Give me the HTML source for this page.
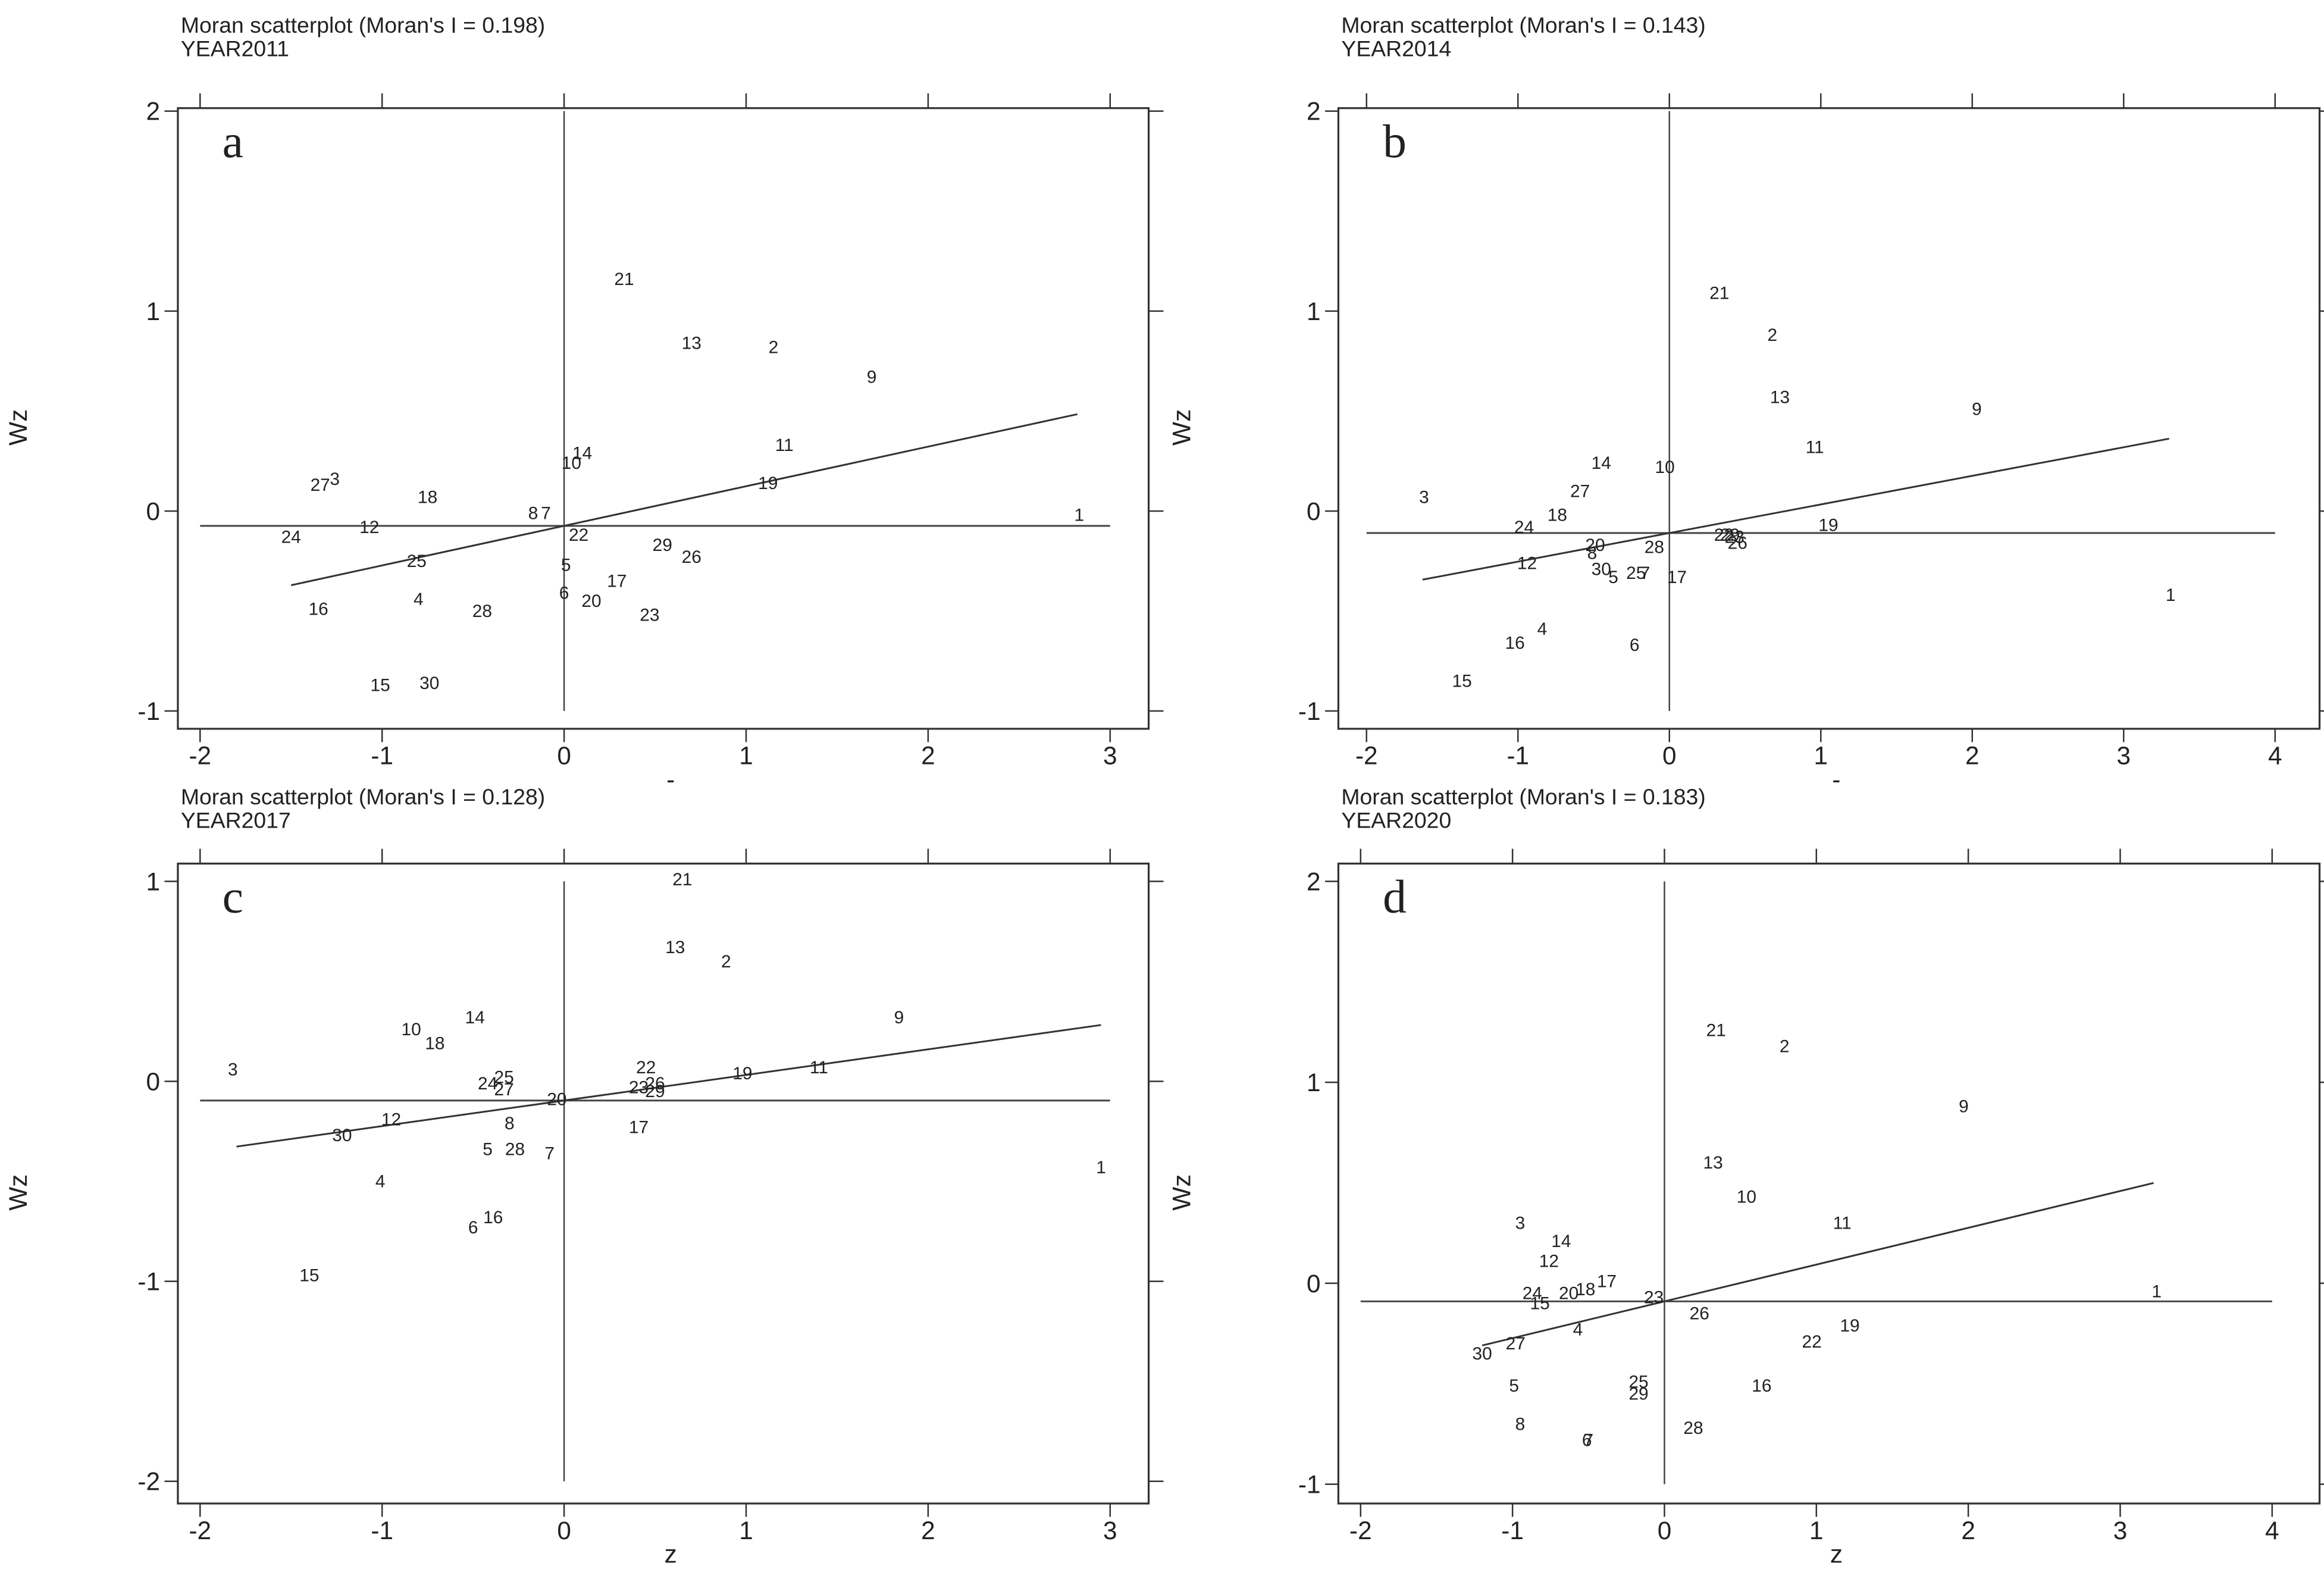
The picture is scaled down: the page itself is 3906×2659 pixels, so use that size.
<!DOCTYPE html>
<html><head><meta charset="utf-8"><style>
html,body{margin:0;padding:0;background:#fff;}
svg{display:block;}
text{font-family:"Liberation Sans",Arial,sans-serif;fill:#222;}
</style></head><body>
<svg id="chart" width="3906" height="2659" viewBox="0 0 1568 1068" preserveAspectRatio="none" xmlns="http://www.w3.org/2000/svg"></svg>
<script>
// Panel a (2011)
const labelsA = ["21","13","2","9","11","19","14","10","27","3","18","8","7","1","12","24","22","29","26","25","5","17","4","16","28","6","20","23","15","30"];
const zA = [0.33,0.70,1.15,1.69,1.21,1.12,0.10,0.04,-1.34,-1.26,-0.75,-0.17,-0.10,2.83,-1.07,-1.50,0.08,0.54,0.70,-0.81,0.01,0.29,-0.80,-1.35,-0.45,0.00,0.15,0.47,-1.01,-0.74];
const wzA = [1.16,0.84,0.82,0.67,0.33,0.14,0.29,0.24,0.13,0.16,0.07,-0.01,-0.01,-0.02,-0.08,-0.13,-0.12,-0.17,-0.23,-0.25,-0.27,-0.35,-0.44,-0.49,-0.50,-0.41,-0.45,-0.52,-0.87,-0.86];
// Panel b (2014)
const labelsB = ["21","2","13","9","11","10","14","27","3","18","24","19","20","8","28","22","29","23","26","12","30","5","25","7","17","1","4","16","6","15"];
const zB = [0.33,0.68,0.73,2.03,0.96,-0.03,-0.45,-0.59,-1.62,-0.74,-0.96,1.05,-0.49,-0.51,-0.10,0.36,0.40,0.43,0.45,-0.94,-0.45,-0.37,-0.22,-0.16,0.05,3.31,-0.84,-1.02,-0.23,-1.37];
const wzB = [1.09,0.88,0.57,0.51,0.32,0.22,0.24,0.10,0.07,-0.02,-0.08,-0.07,-0.17,-0.21,-0.18,-0.12,-0.12,-0.13,-0.16,-0.26,-0.29,-0.33,-0.31,-0.31,-0.33,-0.42,-0.59,-0.66,-0.67,-0.85];
// Panel c (2017)
const labelsC = ["21","13","2","9","14","10","18","3","22","19","11","25","24","27","23","26","29","20","12","8","30","17","5","28","7","1","4","16","6","15"];
const zC = [0.65,0.61,0.89,1.84,-0.49,-0.84,-0.71,-1.82,0.45,0.98,1.40,-0.33,-0.42,-0.33,0.41,0.50,0.50,-0.04,-0.95,-0.30,-1.22,0.41,-0.42,-0.27,-0.08,2.95,-1.01,-0.39,-0.50,-1.40];
const wzC = [1.01,0.67,0.60,0.32,0.32,0.26,0.19,0.06,0.07,0.04,0.07,0.02,-0.01,-0.04,-0.03,-0.01,-0.05,-0.09,-0.19,-0.21,-0.27,-0.23,-0.34,-0.34,-0.36,-0.43,-0.50,-0.68,-0.73,-0.97];
// Panel d (2020)
const labelsD = ["21","2","9","13","10","11","3","14","12","17","18","20","24","15","23","1","26","19","4","22","27","30","5","25","29","16","8","28","6","7"];
const zD = [0.34,0.79,1.97,0.32,0.54,1.17,-0.95,-0.68,-0.76,-0.38,-0.52,-0.63,-0.87,-0.82,-0.07,3.24,0.23,1.22,-0.57,0.97,-0.98,-1.20,-0.99,-0.17,-0.17,0.64,-0.95,0.19,-0.51,-0.50];
const wzD = [1.26,1.18,0.88,0.60,0.43,0.30,0.30,0.21,0.11,0.01,-0.03,-0.05,-0.05,-0.10,-0.07,-0.04,-0.15,-0.21,-0.23,-0.29,-0.30,-0.35,-0.51,-0.49,-0.55,-0.51,-0.70,-0.72,-0.78,-0.78];
// axis ticks
const xTicksA = [-2,-1,0,1,2,3];
const xTicksB = [-2,-1,0,1,2,3,4];
const yTicksA = [-1,0,1,2];
const yTicksC = [-2,-1,0,1];
// Moran's I values and mean lines
const moranI = [0.198,0.143,0.128,0.183];
const meanWz = [-0.074,-0.11,-0.096,-0.09];
const fitRange = [[-1.5,2.82],[-1.63,3.3],[-1.8,2.95],[-1.2,3.22]];

const NS = "http://www.w3.org/2000/svg";
const svg = document.getElementById('chart');
function mk(tag, attrs, parent, txt){
  const e = document.createElementNS(NS, tag);
  for (const k in attrs) e.setAttribute(k, attrs[k]);
  if (txt !== undefined) e.textContent = txt;
  (parent||svg).appendChild(e);
  return e;
}

const panels = [
  {key:'a', year:'YEAR2011', L:120,R:775,T:73,B:492, xmin:-2,xmax:3,px0:135,px1:749, ymin:-1,ymax:2,py0:480,py1:75, xt:xTicksA, yt:yTicksA, labels:labelsA, z:zA, wz:wzA, tx:122, ty:22, wzx:12, xlab:'-'},
  {key:'b', year:'YEAR2014', L:903,R:1565,T:73,B:492, xmin:-2,xmax:4,px0:922,px1:1535, ymin:-1,ymax:2,py0:480,py1:75, xt:xTicksB, yt:yTicksA, labels:labelsB, z:zB, wz:wzB, tx:905, ty:22, wzx:797, xlab:'-'},
  {key:'c', year:'YEAR2017', L:120,R:775,T:583,B:1015, xmin:-2,xmax:3,px0:135,px1:749, ymin:-2,ymax:1,py0:1000,py1:595, xt:xTicksA, yt:yTicksC, labels:labelsC, z:zC, wz:wzC, tx:122, ty:543, wzx:12, xlab:'z'},
  {key:'d', year:'YEAR2020', L:903,R:1565,T:583,B:1015, xmin:-2,xmax:4,px0:918,px1:1533, ymin:-1,ymax:2,py0:1002,py1:595, xt:xTicksB, yt:yTicksA, labels:labelsD, z:zD, wz:wzD, tx:905, ty:543, wzx:797, xlab:'z'}
];

panels.forEach((p, i) => {
  const g = mk('g', {});
  
  
  const X = v => p.px0 + (v - p.xmin) * (p.px1 - p.px0) / (p.xmax - p.xmin);
  const Y = v => p.py0 + (v - p.ymin) * (p.py1 - p.py0) / (p.ymax - p.ymin);

  const t1 = mk('text', {x:p.tx, y:p.ty, 'font-size':15}, g, "Moran scatterplot (Moran's I = " + moranI[i].toFixed(3) + ")");
  
  
  const t2 = mk('text', {x:p.tx, y:p.ty + 16, 'font-size':15}, g, p.year);
  
  

  const fr = mk('rect', {x:p.L, y:p.T, width:p.R-p.L, height:p.B-p.T, fill:'none', stroke:'#333', 'stroke-width':1.3}, g);
  
  

  p.xt.forEach(v => {
    const x = X(v);
    mk('line', {x1:x, x2:x, y1:p.T-10, y2:p.T, stroke:'#333', 'stroke-width':1}, g);
    mk('line', {x1:x, x2:x, y1:p.B, y2:p.B+9, stroke:'#333', 'stroke-width':1}, g);
    const tl = mk('text', {x:x, y:p.B+24, 'font-size':17, 'text-anchor':'middle'}, g, String(v));
    
    
  });
  p.yt.forEach(v => {
    const y = Y(v);
    mk('line', {x1:p.L-9, x2:p.L, y1:y, y2:y, stroke:'#333', 'stroke-width':1}, g);
    mk('line', {x1:p.R, x2:p.R+10, y1:y, y2:y, stroke:'#333', 'stroke-width':1}, g);
    const tl = mk('text', {x:p.L-12, y:y+6, 'font-size':17, 'text-anchor':'end'}, g, String(v));
    
    
  });

  const yl = mk('text', {x:p.wzx, y:(p.T+p.B)/2, 'font-size':17, 'text-anchor':'middle', transform:'rotate(-90 '+(p.wzx+6)+' '+((p.T+p.B)/2)+')'}, g, 'Wz');
  
  
  const xl = mk('text', {x:(p.L+p.R)/2 + 5, y:p.B+40, 'font-size':17, 'text-anchor':'middle'}, g, p.xlab);
  
  

  const lt = mk('text', {x:p.L+30, y:p.T+33, 'font-size':32, style:'font-family:"Liberation Serif",serif'}, g, p.key);
  
  

  const vl = mk('line', {x1:X(0), x2:X(0), y1:Y(p.ymax), y2:Y(p.ymin), stroke:'#444', 'stroke-width':1}, g);
  
  
  const hl = mk('line', {x1:X(p.xmin), x2:X(p.xmax), y1:Y(meanWz[i]), y2:Y(meanWz[i]), stroke:'#444', 'stroke-width':1.2}, g);
  
  
  const [f0, f1] = fitRange[i];
  const fl = mk('line', {x1:X(f0), y1:Y(meanWz[i] + moranI[i]*f0), x2:X(f1), y2:Y(meanWz[i] + moranI[i]*f1), stroke:'#333', 'stroke-width':1.2}, g);
  
  

  p.labels.forEach((lab, k) => {
    const pt = mk('text', {x:X(p.z[k]), y:Y(p.wz[k]) + 4, 'font-size':12, 'text-anchor':'middle'}, g, lab);
    
    
  });
});
</script>
</body></html>
